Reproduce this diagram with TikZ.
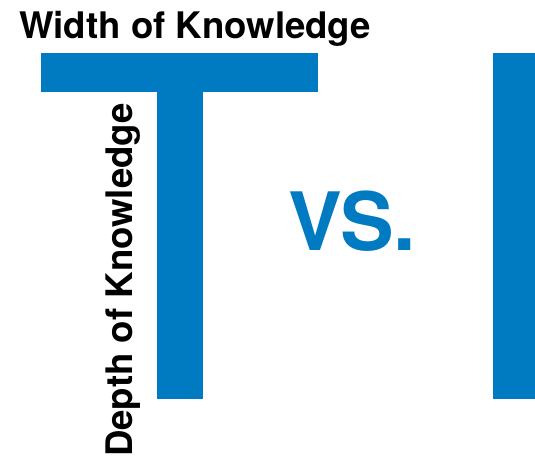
\documentclass[tikz,border=0pt]{standalone}
\usepackage{fontspec}
\setmainfont{TeX Gyre Heros}
\definecolor{tblue}{HTML}{007AC0}
\begin{document}
\begin{tikzpicture}[x=1pt,y=-1pt,
  bar/.style={fill=tblue,draw=none},
  lbl/.style={inner sep=0pt,font=\fontsize{36.6}{40}\selectfont\bfseries,text=black}]
\useasboundingbox[fill=white] (0,0) rectangle (535,456);
\path[bar] (41,53) rectangle (318,92);
\path[bar] (157,92) rectangle (203,399);
\path[bar] (493,53) rectangle (535,399);
\node[lbl,anchor=base west] (width) at (19,38) {Width of Knowledge};
\node[lbl,anchor=base west,rotate=90] (depth) at (132,457) {Depth of Knowledge};
\node[inner sep=0pt,anchor=base west,font=\fontsize{80.5}{82}\selectfont\bfseries,text=tblue] (vs) at (288,250) {VS.};
\end{tikzpicture}
\end{document}
